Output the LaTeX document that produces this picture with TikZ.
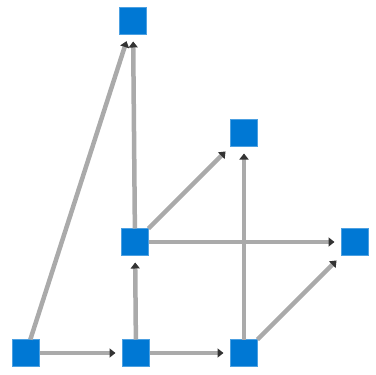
\documentclass[tikz,border=0pt]{standalone}
\usetikzlibrary{arrows.meta}
\definecolor{nodeblue}{HTML}{0078D4}
\definecolor{edgegray}{HTML}{AAAAAA}
\definecolor{tipgray}{HTML}{333333}
\begin{document}
\begin{tikzpicture}[x=1pt,y=-1pt,
  vbox/.style={fill=nodeblue,draw=nodeblue!70!white,line width=1pt,minimum size=27pt,inner sep=0pt,outer sep=0pt},
  edge/.style={draw=edgegray,line width=4.5pt,shorten >=7pt,
    -{Triangle[length=6pt,width=9pt,color=tipgray]}}]
\useasboundingbox (0,0) rectangle (376,375);
\node[vbox] (A) at (133,21) {};
\node[vbox] (B) at (244,133) {};
\node[vbox] (C) at (135,242) {};
\node[vbox] (D) at (355,242) {};
\node[vbox] (E) at (26,353) {};
\node[vbox] (F) at (136,353) {};
\node[vbox] (G) at (244,353) {};
\draw[edge] (E) -- (F);
\draw[edge] (F) -- (G);
\draw[edge] (F) -- (C);
\draw[edge] (C) -- (A);
\draw[edge] (E) -- (A);
\draw[edge] (C) -- (B);
\draw[edge] (G) -- (B);
\draw[edge] (C) -- (D);
\draw[edge] (G) -- (D);
\end{tikzpicture}
\end{document}
